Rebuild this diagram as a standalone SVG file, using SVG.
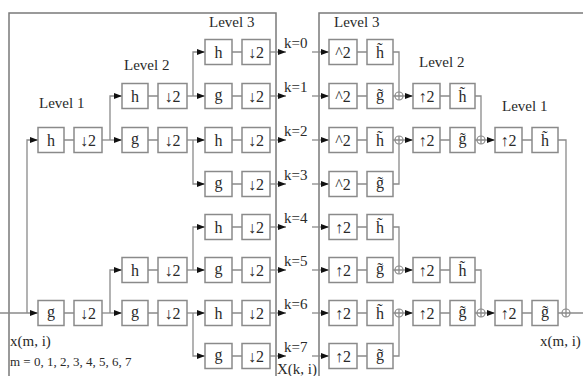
<svg xmlns="http://www.w3.org/2000/svg" width="583" height="376" viewBox="0 0 583 376">
<defs>
<marker id="ar" viewBox="0 0 8 6" refX="8" refY="3" markerWidth="8" markerHeight="6" markerUnits="userSpaceOnUse" orient="auto">
<path d="M0,0 L8,3 L0,6 z" fill="#111"/>
</marker>
<style>
.frame{fill:none;stroke:#7a7a7a;stroke-width:1.5}
.box{fill:#fff;stroke:#8a8a8a;stroke-width:1.5}
.ln{fill:none;stroke:#8a8a8a;stroke-width:1.3}
.arw{fill:none;stroke:#8a8a8a;stroke-width:1.3;marker-end:url(#ar)}
.add{fill:#fff;stroke:#8a8a8a;stroke-width:1.2}
.t{font-family:"Liberation Serif","Times New Roman",serif;font-size:16px;fill:#2a2a2a;text-anchor:middle}
.lab{font-family:"Liberation Serif","Times New Roman",serif;font-size:15px;fill:#2a2a2a}
.k{font-family:"Liberation Serif","Times New Roman",serif;font-size:15px;fill:#2a2a2a}
.m{font-family:"Liberation Serif","Times New Roman",serif;font-size:13px;fill:#2a2a2a}
</style>
</defs>
<rect width="583" height="376" fill="#fff"/>
<g id="frames">
<rect class="frame" x="9" y="13" width="267" height="370"/>
<rect class="frame" x="319" y="13" width="270" height="370"/>
</g>
<g id="labels">
<text class="lab" x="39" y="108">Level 1</text>
<text class="lab" x="124" y="70">Level 2</text>
<text class="lab" x="209" y="27">Level 3</text>
<text class="lab" x="334" y="27">Level 3</text>
<text class="lab" x="419" y="67">Level 2</text>
<text class="lab" x="502" y="111">Level 1</text>
<text class="k" x="10" y="346">x(m, i)</text>
<text class="m" x="10" y="366">m = 0, 1, 2, 3, 4, 5, 6, 7</text>
<text class="k" x="540" y="346">x(m, i)</text>
<text class="k" x="277" y="374">X(k, i)</text>
<text class="k" x="284" y="48">k=0</text>
<text class="k" x="284" y="92">k=1</text>
<text class="k" x="284" y="136">k=2</text>
<text class="k" x="284" y="180">k=3</text>
<text class="k" x="284" y="223">k=4</text>
<text class="k" x="284" y="266">k=5</text>
<text class="k" x="284" y="309">k=6</text>
<text class="k" x="284" y="352">k=7</text>
</g>
<g id="connectors">
<path class="arw" d="M0,313 H38"/>
<path class="arw" d="M27,313 V140 H38"/>
<path class="ln" d="M64,140 H74 M64,313 H74"/>
<path class="arw" d="M102,140 H122"/>
<path class="arw" d="M110,140 V96 H122"/>
<path class="arw" d="M102,313 H122"/>
<path class="arw" d="M110,313 V270 H122"/>
<path class="ln" d="M148,96 H158 M148,140 H158 M148,270 H158 M148,313 H158"/>
<path class="arw" d="M187,96 H205"/>
<path class="arw" d="M193,96 V52 H205"/>
<path class="arw" d="M187,140 H205"/>
<path class="arw" d="M193,140 V184 H205"/>
<path class="arw" d="M187,270 H205"/>
<path class="arw" d="M193,270 V227 H205"/>
<path class="arw" d="M187,313 H205"/>
<path class="arw" d="M193,313 V356 H205"/>
<path class="ln" d="M232,52 H242 M232,96 H242 M232,140 H242 M232,184 H242 M232,227 H242 M232,270 H242 M232,313 H242 M232,356 H242"/>
<path class="arw" d="M270,52 H286"/>
<path class="arw" d="M270,96 H286"/>
<path class="arw" d="M270,140 H286"/>
<path class="arw" d="M270,184 H286"/>
<path class="arw" d="M270,227 H286"/>
<path class="arw" d="M270,270 H286"/>
<path class="arw" d="M270,313 H286"/>
<path class="arw" d="M270,356 H286"/>
<path class="arw" d="M312,52 H329"/>
<path class="arw" d="M312,96 H329"/>
<path class="arw" d="M312,140 H329"/>
<path class="arw" d="M312,184 H329"/>
<path class="arw" d="M312,227 H329"/>
<path class="arw" d="M312,270 H329"/>
<path class="arw" d="M312,313 H329"/>
<path class="arw" d="M312,356 H329"/>
<path class="ln" d="M357,52 H367 M357,96 H367 M357,140 H367 M357,184 H367 M357,227 H367 M357,270 H367 M357,313 H367 M357,356 H367"/>
<path class="ln" d="M393,52 H399 V92 M393,96 H395"/>
<path class="ln" d="M393,184 H399 V144 M393,140 H395"/>
<path class="ln" d="M393,227 H399 V266 M393,270 H395"/>
<path class="ln" d="M393,356 H399 V317 M393,313 H395"/>
<path class="arw" d="M403,96 H413"/>
<path class="arw" d="M403,140 H413"/>
<path class="arw" d="M403,270 H413"/>
<path class="arw" d="M403,313 H413"/>
<path class="ln" d="M440,96 H450 M440,140 H450 M440,270 H450 M440,313 H450"/>
<path class="ln" d="M475,96 H481 V136 M475,140 H477"/>
<path class="ln" d="M475,270 H481 V309 M475,313 H477"/>
<path class="arw" d="M485,140 H495"/>
<path class="arw" d="M485,313 H495"/>
<path class="ln" d="M522,140 H532 M522,313 H532"/>
<path class="ln" d="M558,140 H566 V309 M558,313 H562 M570,313 H583"/>
</g>
<g id="adders">
<g id="add1"><circle class="add" cx="399" cy="96" r="4"/><path class="ln" d="M395,96 H403 M399,92 V100"/></g>
<g id="add2"><circle class="add" cx="399" cy="140" r="4"/><path class="ln" d="M395,140 H403 M399,136 V144"/></g>
<g id="add3"><circle class="add" cx="399" cy="270" r="4"/><path class="ln" d="M395,270 H403 M399,266 V274"/></g>
<g id="add4"><circle class="add" cx="399" cy="313" r="4"/><path class="ln" d="M395,313 H403 M399,309 V317"/></g>
<g id="add5"><circle class="add" cx="481" cy="140" r="4"/><path class="ln" d="M477,140 H485 M481,136 V144"/></g>
<g id="add6"><circle class="add" cx="481" cy="313" r="4"/><path class="ln" d="M477,313 H485 M481,309 V317"/></g>
<g id="add7"><circle class="add" cx="566" cy="313" r="4"/><path class="ln" d="M562,313 H570 M566,309 V317"/></g>
</g>
<g id="a1h"><rect class="box" x="38" y="127.5" width="26" height="25"/><text class="t" x="51" y="146">h</text></g>
<g id="a1hd"><rect class="box" x="74" y="127.5" width="28" height="25"/><text class="t" x="88" y="146">↓2</text></g>
<g id="a1g"><rect class="box" x="38" y="300.5" width="26" height="25"/><text class="t" x="51" y="317">g</text></g>
<g id="a1gd"><rect class="box" x="74" y="300.5" width="28" height="25"/><text class="t" x="88" y="319">↓2</text></g>
<g id="a2h0"><rect class="box" x="122" y="83.5" width="26" height="25"/><text class="t" x="135" y="102">h</text></g>
<g id="a2h0d"><rect class="box" x="158" y="83.5" width="29" height="25"/><text class="t" x="172.5" y="102">↓2</text></g>
<g id="a2g0"><rect class="box" x="122" y="127.5" width="26" height="25"/><text class="t" x="135" y="144">g</text></g>
<g id="a2g0d"><rect class="box" x="158" y="127.5" width="29" height="25"/><text class="t" x="172.5" y="146">↓2</text></g>
<g id="a2h1"><rect class="box" x="122" y="257.5" width="26" height="25"/><text class="t" x="135" y="276">h</text></g>
<g id="a2h1d"><rect class="box" x="158" y="257.5" width="29" height="25"/><text class="t" x="172.5" y="276">↓2</text></g>
<g id="a2g1"><rect class="box" x="122" y="300.5" width="26" height="25"/><text class="t" x="135" y="317">g</text></g>
<g id="a2g1d"><rect class="box" x="158" y="300.5" width="29" height="25"/><text class="t" x="172.5" y="319">↓2</text></g>
<g id="a3k0"><rect class="box" x="205" y="39.5" width="27" height="25"/><text class="t" x="218.5" y="58">h</text></g>
<g id="a3k0d"><rect class="box" x="242" y="39.5" width="28" height="25"/><text class="t" x="256" y="58">↓2</text></g>
<g id="a3k1"><rect class="box" x="205" y="83.5" width="27" height="25"/><text class="t" x="218.5" y="100">g</text></g>
<g id="a3k1d"><rect class="box" x="242" y="83.5" width="28" height="25"/><text class="t" x="256" y="102">↓2</text></g>
<g id="a3k2"><rect class="box" x="205" y="127.5" width="27" height="25"/><text class="t" x="218.5" y="146">h</text></g>
<g id="a3k2d"><rect class="box" x="242" y="127.5" width="28" height="25"/><text class="t" x="256" y="146">↓2</text></g>
<g id="a3k3"><rect class="box" x="205" y="171.5" width="27" height="25"/><text class="t" x="218.5" y="188">g</text></g>
<g id="a3k3d"><rect class="box" x="242" y="171.5" width="28" height="25"/><text class="t" x="256" y="190">↓2</text></g>
<g id="a3k4"><rect class="box" x="205" y="214.5" width="27" height="25"/><text class="t" x="218.5" y="233">h</text></g>
<g id="a3k4d"><rect class="box" x="242" y="214.5" width="28" height="25"/><text class="t" x="256" y="233">↓2</text></g>
<g id="a3k5"><rect class="box" x="205" y="257.5" width="27" height="25"/><text class="t" x="218.5" y="274">g</text></g>
<g id="a3k5d"><rect class="box" x="242" y="257.5" width="28" height="25"/><text class="t" x="256" y="276">↓2</text></g>
<g id="a3k6"><rect class="box" x="205" y="300.5" width="27" height="25"/><text class="t" x="218.5" y="319">h</text></g>
<g id="a3k6d"><rect class="box" x="242" y="300.5" width="28" height="25"/><text class="t" x="256" y="319">↓2</text></g>
<g id="a3k7"><rect class="box" x="205" y="343.5" width="27" height="25"/><text class="t" x="218.5" y="360">g</text></g>
<g id="a3k7d"><rect class="box" x="242" y="343.5" width="28" height="25"/><text class="t" x="256" y="362">↓2</text></g>
<g id="s3k0u"><rect class="box" x="329" y="39.5" width="28" height="25"/><text class="t" x="343" y="58">^2</text></g>
<g id="s3k0"><rect class="box" x="367" y="39.5" width="26" height="25"/><text class="t" x="380" y="58">h̃</text></g>
<g id="s3k1u"><rect class="box" x="329" y="83.5" width="28" height="25"/><text class="t" x="343" y="102">^2</text></g>
<g id="s3k1"><rect class="box" x="367" y="83.5" width="26" height="25"/><text class="t" x="380" y="100">g̃</text></g>
<g id="s3k2u"><rect class="box" x="329" y="127.5" width="28" height="25"/><text class="t" x="343" y="146">^2</text></g>
<g id="s3k2"><rect class="box" x="367" y="127.5" width="26" height="25"/><text class="t" x="380" y="146">h̃</text></g>
<g id="s3k3u"><rect class="box" x="329" y="171.5" width="28" height="25"/><text class="t" x="343" y="190">^2</text></g>
<g id="s3k3"><rect class="box" x="367" y="171.5" width="26" height="25"/><text class="t" x="380" y="188">g̃</text></g>
<g id="s3k4u"><rect class="box" x="329" y="214.5" width="28" height="25"/><text class="t" x="343" y="233">↑2</text></g>
<g id="s3k4"><rect class="box" x="367" y="214.5" width="26" height="25"/><text class="t" x="380" y="233">h̃</text></g>
<g id="s3k5u"><rect class="box" x="329" y="257.5" width="28" height="25"/><text class="t" x="343" y="276">↑2</text></g>
<g id="s3k5"><rect class="box" x="367" y="257.5" width="26" height="25"/><text class="t" x="380" y="274">g̃</text></g>
<g id="s3k6u"><rect class="box" x="329" y="300.5" width="28" height="25"/><text class="t" x="343" y="319">↑2</text></g>
<g id="s3k6"><rect class="box" x="367" y="300.5" width="26" height="25"/><text class="t" x="380" y="319">h̃</text></g>
<g id="s3k7u"><rect class="box" x="329" y="343.5" width="28" height="25"/><text class="t" x="343" y="362">↑2</text></g>
<g id="s3k7"><rect class="box" x="367" y="343.5" width="26" height="25"/><text class="t" x="380" y="360">g̃</text></g>
<g id="s2h0u"><rect class="box" x="413" y="83.5" width="27" height="25"/><text class="t" x="426.5" y="102">↑2</text></g>
<g id="s2h0"><rect class="box" x="450" y="83.5" width="25" height="25"/><text class="t" x="462.5" y="102">h̃</text></g>
<g id="s2g0u"><rect class="box" x="413" y="127.5" width="27" height="25"/><text class="t" x="426.5" y="146">↑2</text></g>
<g id="s2g0"><rect class="box" x="450" y="127.5" width="25" height="25"/><text class="t" x="462.5" y="144">g̃</text></g>
<g id="s2h1u"><rect class="box" x="413" y="257.5" width="27" height="25"/><text class="t" x="426.5" y="276">↑2</text></g>
<g id="s2h1"><rect class="box" x="450" y="257.5" width="25" height="25"/><text class="t" x="462.5" y="276">h̃</text></g>
<g id="s2g1u"><rect class="box" x="413" y="300.5" width="27" height="25"/><text class="t" x="426.5" y="319">↑2</text></g>
<g id="s2g1"><rect class="box" x="450" y="300.5" width="25" height="25"/><text class="t" x="462.5" y="317">g̃</text></g>
<g id="s1hu"><rect class="box" x="495" y="127.5" width="27" height="25"/><text class="t" x="508.5" y="146">↑2</text></g>
<g id="s1h"><rect class="box" x="532" y="127.5" width="26" height="25"/><text class="t" x="545" y="146">h̃</text></g>
<g id="s1gu"><rect class="box" x="495" y="300.5" width="27" height="25"/><text class="t" x="508.5" y="319">↑2</text></g>
<g id="s1g"><rect class="box" x="532" y="300.5" width="26" height="25"/><text class="t" x="545" y="317">g̃</text></g>
</svg>
